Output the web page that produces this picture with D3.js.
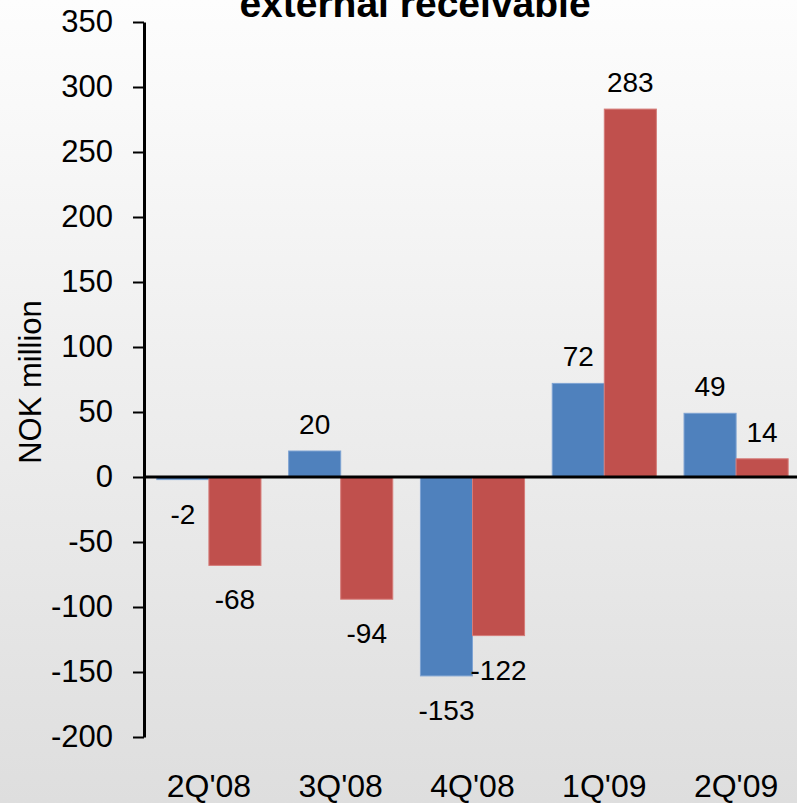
<!DOCTYPE html>
<html>
<head>
<meta charset="utf-8">
<script src="https://cdn.jsdelivr.net/npm/d3@7"></script>
<style>
  html, body { margin: 0; padding: 0; background: #fff; }
  svg { display: block; font-family: "Liberation Sans", Arial, sans-serif; }
</style>
</head>
<body>
<svg id="chart" width="797" height="803"></svg>
<script>
// Quarterly values, NOK million
const categories = ["2Q'08", "3Q'08", "4Q'08", "1Q'09", "2Q'09"];
const seriesNames = ["A", "B"];
const seriesA = [-2, 20, -153, 72, 49];
const seriesB = [-68, -94, -122, 283, 14];
const yTicks = [-200, -150, -100, -50, 0, 50, 100, 150, 200, 250, 300, 350];
const colors = ["#4F81BD", "#C0504D"];
const strokes = ["#7EA3D3", "#D57B78"];
const titleText = "external receivable";
const yLabel = "NOK million";

const W = 797, H = 803;
const svg = d3.select("#chart");

// Background: soft vertical gradient
const defs = svg.append("defs");
const grad = defs.append("linearGradient")
  .attr("id", "bg").attr("x1", 0).attr("y1", 0).attr("x2", 0).attr("y2", 1);
grad.append("stop").attr("offset", "0%").attr("stop-color", "#fdfdfd");
grad.append("stop").attr("offset", "100%").attr("stop-color", "#dedede");
svg.append("rect").attr("width", W).attr("height", H).attr("fill", "url(#bg)");

// Scales
const y = d3.scaleLinear().domain([-200, 350]).range([737, 22]);
const x0 = d3.scaleBand().domain(categories).range([143, 802])
  .paddingInner(0.21).paddingOuter(0.105);
const x1 = d3.scaleBand().domain(seriesNames).range([0, x0.bandwidth()]);

const data = categories.map((c, i) => ({
  cat: c,
  vals: [
    { s: "A", v: seriesA[i], k: 0 },
    { s: "B", v: seriesB[i], k: 1 }
  ]
}));

// Bars
const groups = svg.append("g").selectAll("g").data(data).join("g")
  .attr("transform", d => `translate(${x0(d.cat)},0)`);

groups.selectAll("rect").data(d => d.vals).join("rect")
  .attr("x", d => x1(d.s))
  .attr("width", x1.bandwidth())
  .attr("y", d => y(Math.max(0, d.v)))
  .attr("height", d => Math.abs(y(d.v) - y(0)))
  .attr("fill", d => colors[d.k])
  .attr("stroke", d => strokes[d.k])
  .attr("stroke-width", 1);

// Value labels
groups.selectAll("text").data(d => d.vals).join("text")
  .attr("x", d => x1(d.s) + x1.bandwidth() / 2)
  .attr("y", d => d.v >= 0 ? y(d.v) - 17 : y(d.v) + 44)
  .attr("text-anchor", "middle")
  .attr("font-size", 28)
  .attr("fill", "#000")
  .text(d => String(d.v));

// Zero baseline
svg.append("line")
  .attr("x1", 144).attr("x2", W)
  .attr("y1", y(0)).attr("y2", y(0))
  .attr("stroke", "#000").attr("stroke-width", 3);

// Y axis (plain hyphen for negatives)
const yAxis = d3.axisLeft(y).tickValues(yTicks).tickSize(11).tickPadding(20)
  .tickSizeOuter(0).tickFormat(d => String(d));
const ya = svg.append("g").attr("transform", "translate(144,0)").call(yAxis);
ya.select(".domain").attr("stroke", "#000").attr("stroke-width", 3);
ya.selectAll(".tick line").attr("stroke", "#000").attr("stroke-width", 2);
ya.selectAll(".tick text")
  .attr("font-size", 31)
  .attr("font-family", "'Liberation Sans', Arial, sans-serif")
  .attr("fill", "#000");

// Category labels
svg.append("g").selectAll("text").data(categories).join("text")
  .attr("x", d => x0(d) + x0.bandwidth() / 2)
  .attr("y", 797)
  .attr("text-anchor", "middle")
  .attr("font-size", 32)
  .attr("fill", "#000")
  .text(d => d);

// Y axis title
svg.append("text")
  .attr("transform", "translate(41,382) rotate(-90)")
  .attr("text-anchor", "middle")
  .attr("font-size", 31)
  .attr("fill", "#000")
  .text(yLabel);

// Chart title (second line of a two-line heading)
svg.append("text")
  .attr("x", 415).attr("y", 17)
  .attr("text-anchor", "middle")
  .attr("font-size", 39)
  .attr("font-weight", "bold")
  .attr("fill", "#000")
  .text(titleText);
</script>
</body>
</html>
